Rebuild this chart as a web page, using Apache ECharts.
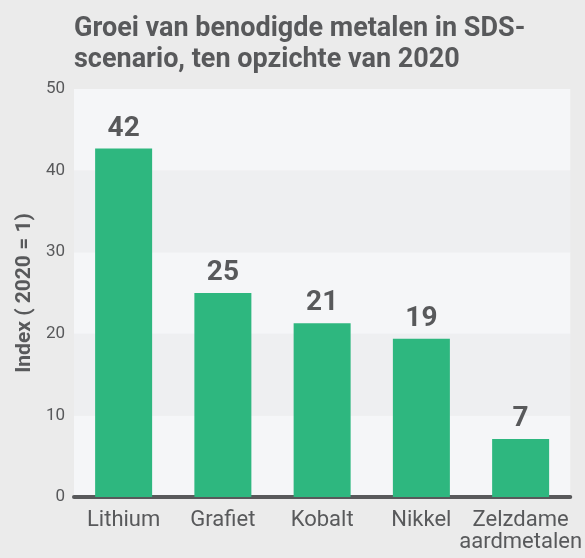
<!DOCTYPE html>
<html>
<head>
<meta charset="utf-8">
<script src="https://cdn.jsdelivr.net/npm/echarts@6/dist/echarts.min.js"></script>
<style>
html, body { margin: 0; padding: 0; background: #ebebeb; }
#chart { width: 585px; height: 558px; }
</style>
</head>
<body>
<div id="chart"></div>
<script>
// metalen en groei-index t.o.v. 2020
var metals = ['Lithium', 'Grafiet', 'Kobalt', 'Nikkel', 'Zelzdame\naardmetalen'];
var growth = [42.7, 25.0, 21.3, 19.4, 7.1];
var growthLabels = ['42', '25', '21', '19', '7'];
var yTicks = [0, 10, 20, 30, 40, 50];

var grey = '#58595b';
var chart = echarts.init(document.getElementById('chart'));

var option = {
	backgroundColor: '#ebebeb',
	textStyle: { fontFamily: 'Roboto' },
	title: {
		text: 'Groei van benodigde metalen in SDS-\nscenario, ten opzichte van 2020',
		left: 69,
		top: 9,
		textStyle: {
			fontFamily: 'Roboto',
			fontWeight: 'bold',
			fontSize: 27,
			lineHeight: 31,
			color: grey
		}
	},
	grid: { left: 74, right: 14, top: 89, bottom: 61 },
	xAxis: {
		type: 'category',
		data: metals,
		axisTick: { show: false },
		axisLine: { lineStyle: { color: grey, width: 4 } },
		axisLabel: {
			color: grey,
			fontSize: 22,
			lineHeight: 22,
			margin: 12,
			interval: 0
		}
	},
	yAxis: {
		type: 'value',
		min: yTicks[0],
		max: yTicks[yTicks.length - 1],
		interval: 10,
		name: 'Index ( 2020 = 1)',
		nameLocation: 'middle',
		nameGap: 38,
		nameTextStyle: { color: grey, fontSize: 21, fontWeight: 'bold' },
		axisLine: { show: false },
		axisTick: { show: false },
		splitLine: { show: false },
		splitArea: { show: true, areaStyle: { color: ['#f5f6f8', '#eeeff1'] } },
		axisLabel: { color: grey, fontSize: 17, margin: 9 }
	},
	series: [
		{
			type: 'bar',
			data: growth,
			barWidth: 57,
			itemStyle: { color: '#2eb77f' },
			label: {
				show: true,
				position: 'top',
				distance: 6,
				color: grey,
				fontSize: 28,
				fontWeight: 'bold',
				formatter: function (p) {
					return growthLabels[p.dataIndex];
				}
			}
		}
	]
};
chart.setOption(option);
</script>
</body>
</html>
